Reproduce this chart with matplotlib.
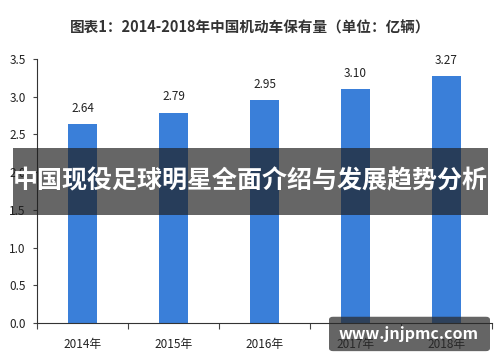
import matplotlib.pyplot as plt
from matplotlib.patches import FancyBboxPatch, Rectangle

plt.rcParams['font.family'] = ['Noto Sans CJK SC', 'DejaVu Sans']

# ── Data ─────────────────────────────────────────────────────────────────────
years = ["2014年", "2015年", "2016年", "2017年", "2018年"]
vehicles = [2.64, 2.79, 2.95, 3.10, 3.27]  # 亿辆
y_ticks = [0.0, 0.5, 1.0, 1.5, 2.0, 2.5, 3.0, 3.5]
# ─────────────────────────────────────────────────────────────────────────────

fig = plt.figure(figsize=(5.0, 3.62), dpi=100)
ax = fig.add_axes([0.074, 0.108, 0.91, 0.729])

x = range(len(years))
ax.bar(x, vehicles, width=0.31, color="#3a7fd9", zorder=2)
for i, v in zip(x, vehicles):
    ax.text(i, v + 0.12, f"{v:.2f}", ha="center", va="bottom", fontsize=8.5, color="#222222")

ax.set_xlim(-0.5, len(years) - 0.5)
ax.set_ylim(0, 3.5)
ax.set_yticks(y_ticks)
ax.set_yticklabels([f"{t:.1f}" for t in y_ticks], fontsize=8.5, color="#222222")
ax.set_xticks([i - 0.5 for i in range(len(years) + 1)])
ax.set_xticklabels([])
ax.set_xticks(list(x), minor=True)
ax.set_xticklabels(years, minor=True, fontsize=8.5, color="#222222")
ax.tick_params(axis="x", which="minor", length=0, pad=11)
ax.tick_params(axis="x", which="major", length=4, width=0.8, color="#444444")
ax.tick_params(axis="y", length=3, width=0.8, color="#444444", pad=5)
for s in ["top", "right"]:
    ax.spines[s].set_visible(False)
for s in ["left", "bottom"]:
    ax.spines[s].set_color("#333333")
    ax.spines[s].set_linewidth(0.8)

fig.text(0.5, 0.925, "图表1：2014-2018年中国机动车保有量（单位：亿辆）",
         ha="center", va="center", fontsize=10.5, fontweight="bold", color="#333333")

# overlay banner
fig.patches.append(Rectangle((0.026, 0.406), 0.95, 0.185, transform=fig.transFigure,
                             facecolor="#1e1e1e", alpha=0.68, edgecolor="none", zorder=5))
fig.text(0.5, 0.5, "中国现役足球明星全面介绍与发展趋势分析", ha="center", va="center",
         fontsize=18, fontweight="bold", color="white", zorder=6)

# watermark box
fig.patches.append(FancyBboxPatch((0.658, 0.03), 0.322, 0.095, boxstyle="round,pad=0,rounding_size=0.008",
                                  transform=fig.transFigure, facecolor="#2a2a2a", alpha=0.72,
                                  edgecolor="none", zorder=5))
fig.text(0.818, 0.078, "www.jnjpmc.com", ha="center", va="center",
         fontsize=11.5, fontweight="bold", color="white", zorder=6)

fig.savefig("out.png", dpi=100)
